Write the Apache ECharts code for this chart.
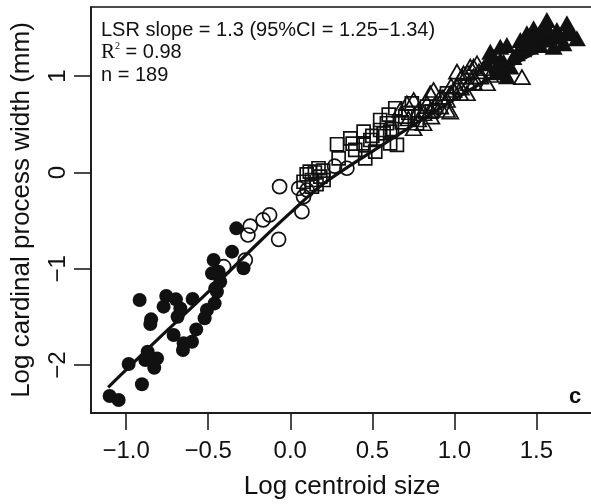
<!DOCTYPE html>
<html><head><meta charset="utf-8">
<script src="https://cdn.jsdelivr.net/npm/echarts@6/dist/echarts.min.js"></script>
<style>html,body{margin:0;padding:0;background:#fff}#c{width:591px;height:504px}</style>
</head><body><div id="c"></div>
<script>
const xTicks = [-1.0, -0.5, 0, 0.5, 1.0, 1.5];
const yTicks = [-2, -1, 0, 1];

const filledCircles = [
  [-1.101,-2.321],[-1.046,-2.362],[-0.904,-2.199],[-0.985,-1.989],[-0.869,-1.861],[-0.812,-1.930],
  [-0.829,-2.027],[-0.884,-1.947],[-0.918,-1.324],[-0.848,-1.525],[-0.853,-1.573],[-0.756,-1.282],
  [-0.697,-1.317],[-0.772,-1.393],[-0.670,-1.411],[-0.687,-1.497],[-0.595,-1.314],[-0.711,-1.687],
  [-0.650,-1.774],[-0.654,-1.843],[-0.599,-1.757],[-0.573,-1.629],[-0.522,-1.514],[-0.508,-1.428],
  [-0.461,-1.359],[-0.447,-1.238],[-0.427,-1.134],[-0.477,-1.047],[-0.437,-1.030],[-0.467,-0.909],
  [-0.355,-0.822],[-0.285,-0.995],[-0.329,-0.580],[-0.457,-1.203]
];
const openCircles = [
  [-0.065,-0.147],[0.051,-0.164],[0.081,-0.251],[0.071,-0.407],[-0.071,-0.694],[-0.126,-0.441],
  [-0.166,-0.493],[-0.244,-0.556],[-0.258,-0.649],[-0.274,-0.909],[0.102,-0.182],[-0.406,-0.978],
  [0.270,0.065],[0.345,0.044]
];
const openSquares = [
  [0.119,0.008],[0.172,0.044],[0.183,-0.044],[0.081,-0.096],[0.132,-0.078],[0.203,-0.078],
  [0.285,0.293],[0.295,0.147],[0.366,0.355],[0.447,0.424],[0.457,0.147],[0.518,0.216],
  [0.548,0.441],[0.609,0.303],[0.650,0.286],[0.640,0.667],[0.701,0.579],[0.741,0.718],
  [0.772,0.511],[0.589,0.511],[0.447,0.303],[0.396,0.234],[0.488,0.337],[0.569,0.407],
  [0.609,0.424],[0.548,0.545],[0.823,0.631],[0.833,0.683],[0.863,0.631],[0.955,0.822],
  [0.132,-0.147],[0.100,-0.020],[0.150,0.000],[0.200,0.020],[0.160,-0.120],[0.380,0.300],
  [0.500,0.380],[0.620,0.450],[0.680,0.520],[0.720,0.620],[0.600,0.600]
];
const openTriangles = [
  [0.752,0.753],[0.833,0.718],[0.873,0.857],[0.914,0.787],[0.955,0.649],[0.975,0.822],
  [1.016,0.891],[1.056,1.030],[1.097,1.099],[1.138,1.134],[1.158,0.995],[1.199,0.926],
  [1.087,0.926],[1.412,0.990],[0.812,0.615],[0.782,0.649],[0.711,0.718],[0.670,0.649],
  [0.853,0.649],[1.036,0.822],[0.955,0.753],[1.016,1.047],[1.117,0.995],[1.178,1.082],
  [0.914,0.683],[1.219,1.012],[0.752,0.459],[0.812,0.511],[0.853,0.822],[0.975,0.631],
  [0.995,0.857],[1.046,0.995],[1.077,0.822],[1.117,1.099],[0.780,0.550],[0.880,0.700],
  [0.930,0.780],[0.980,0.900],[1.040,0.880],[1.080,1.040],[1.150,1.050],[1.120,0.930],
  [0.860,0.580],[0.720,0.560]
];
const filledTriangles = [
  [1.280,1.306],[1.320,1.324],[1.239,1.202],[1.199,1.134],[1.341,1.099],[1.300,1.047],
  [1.402,1.376],[1.442,1.445],[1.483,1.497],[1.564,1.584],[1.544,1.412],[1.605,1.306],
  [1.523,1.324],[1.686,1.549],[1.706,1.445],[1.747,1.393],[1.646,1.410],[1.625,1.480],
  [1.462,1.306],[1.381,1.238],[1.584,1.445],[1.280,1.168],[1.503,1.376],[1.665,1.342],
  [1.320,1.000],[1.260,1.040],[1.219,1.254],[1.360,1.200],[1.420,1.280],[1.480,1.400],
  [1.520,1.450],[1.580,1.380],[1.620,1.420],[1.700,1.500],[1.560,1.500],[1.440,1.350],
  [1.300,1.150],[1.260,1.100]
];
const fitLine = [
  [-1.11,-2.23],[-0.8,-1.72],[-0.5,-1.24],[-0.2,-0.74],[0,-0.42],[0.2,-0.12],
  [0.5,0.22],[1.0,0.76],[1.4,1.16],[1.72,1.47]
];

const F = '"Liberation Sans", Arial, Helvetica, sans-serif';
const ink = '#111';
const fmt = (v, d) => { const s = Math.abs(v).toFixed(d); return v < 0 ? '\u2212' + s : s; };

const chart = echarts.init(document.getElementById('c'), null, {renderer: 'canvas'});
const openStyle = {color: 'rgba(0,0,0,0)', borderColor: ink, borderWidth: 1.7, opacity: 1};
const solidStyle = {color: ink, opacity: 1};
const option = {
  animation: false,
  grid: {left: 91, top: 7, width: 502, height: 406, show: true, borderColor: ink, borderWidth: 1.5, outerBoundsMode: 'none', containLabel: false},
  xAxis: {
    type: 'value', min: -1.2145, max: 1.845,
    name: 'Log centroid size', nameLocation: 'middle', nameGap: 61,
    nameTextStyle: {fontFamily: F, fontSize: 26, color: ink},
    axisLine: {show: true, onZero: false, lineStyle: {color: ink, width: 1.5}},
    axisTick: {show: true, inside: false, length: 17, lineStyle: {color: ink, width: 1.5}, customValues: xTicks},
    axisLabel: {customValues: xTicks, margin: 26, fontFamily: F, fontSize: 24, color: ink, formatter: v => fmt(v, 1)},
    splitLine: {show: false}
  },
  yAxis: {
    type: 'value', min: -2.497, max: 1.718,
    name: 'Log cardinal process width (mm)', nameLocation: 'middle', nameGap: 56, nameRotate: 90,
    nameTextStyle: {fontFamily: F, fontSize: 26, color: ink},
    axisLine: {show: true, onZero: false, lineStyle: {color: ink, width: 1.5}},
    axisTick: {show: true, inside: false, length: 17, lineStyle: {color: ink, width: 1.5}, customValues: yTicks},
    axisLabel: {customValues: yTicks, rotate: 90, margin: 21, fontFamily: F, fontSize: 24, color: ink, formatter: v => fmt(v, 0)},
    splitLine: {show: false}
  },
  series: [
    {type: 'scatter', data: filledCircles, symbol: 'circle', symbolSize: 14, itemStyle: solidStyle},
    {type: 'scatter', data: openCircles, symbol: 'circle', symbolSize: 14, itemStyle: openStyle},
    {type: 'scatter', data: openSquares, symbol: 'rect', symbolSize: 13, itemStyle: openStyle},
    {type: 'scatter', data: openTriangles, symbol: 'triangle', symbolSize: [16, 14], itemStyle: openStyle},
    {type: 'scatter', data: filledTriangles, symbol: 'triangle', symbolSize: [18, 16], itemStyle: solidStyle},
    {type: 'line', data: fitLine, smooth: 0.35, symbol: 'none', z: 5, lineStyle: {color: ink, width: 3.2}}
  ],
  graphic: [
    {type: 'text', x: 101, y: 30, style: {text: 'LSR slope = 1.3 (95%CI = 1.25\u22121.34)', fontFamily: F, fontSize: 20, fill: ink, verticalAlign: 'middle'}},
    {type: 'text', x: 101, y: 52, style: {text: '{r|R}{s|2}{t| = 0.98}', verticalAlign: 'middle', fill: ink,
      rich: {r: {fontFamily: '"Liberation Serif", "Times New Roman", serif', fontSize: 21, fill: ink},
             s: {fontFamily: '"Liberation Serif", serif', fontSize: 10, verticalAlign: 'top', fill: ink},
             t: {fontFamily: F, fontSize: 20, fill: ink}}}},
    {type: 'text', x: 101, y: 75, style: {text: 'n = 189', fontFamily: F, fontSize: 20, fill: ink, verticalAlign: 'middle'}},
    {type: 'text', x: 575, y: 397, style: {text: 'c', fontFamily: F, fontSize: 22, fontWeight: 'bold', fill: ink, align: 'center', verticalAlign: 'middle'}}
  ]
};
chart.setOption(option);
</script></body></html>
